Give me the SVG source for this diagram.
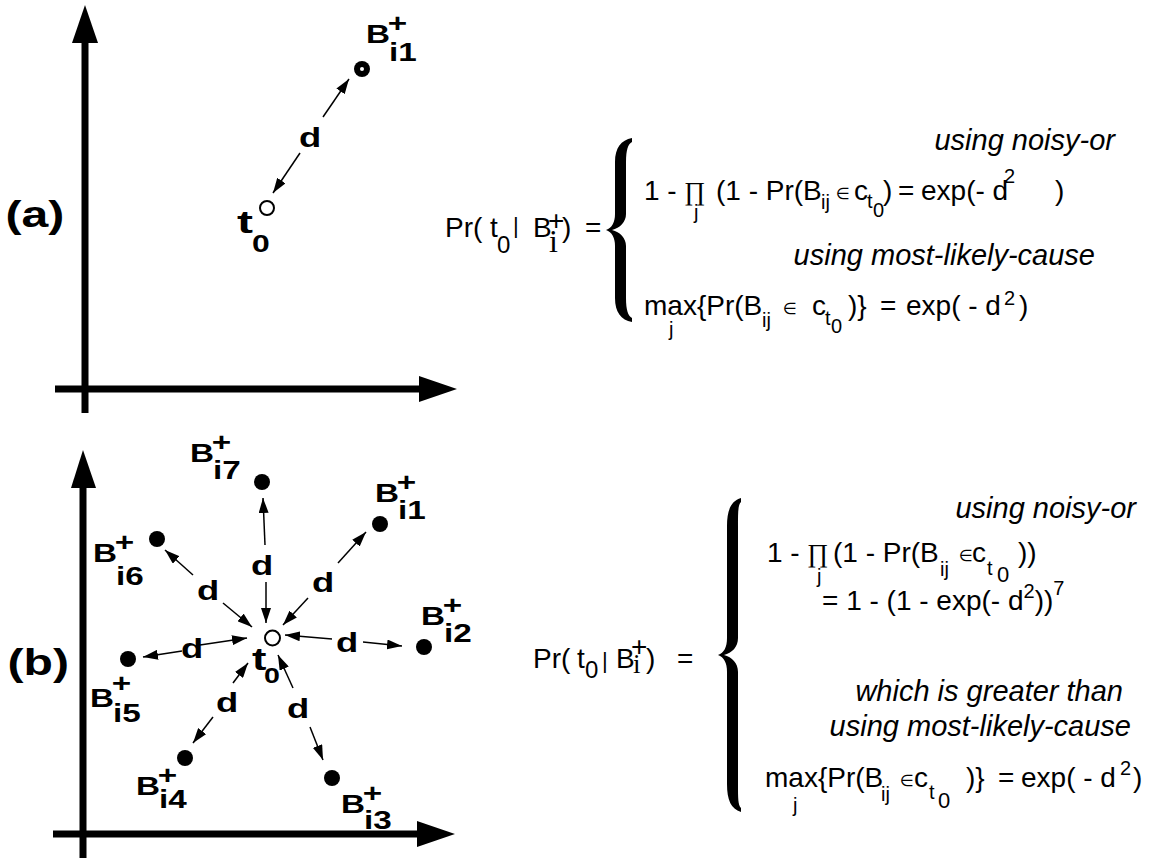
<svg xmlns="http://www.w3.org/2000/svg" width="1152" height="859" viewBox="0 0 1152 859">
<defs>
<style>
.ax{stroke:#000;stroke-width:7;fill:none}
.ah{fill:#000}
.cn{stroke:#000;stroke-width:1.5;fill:none;marker-end:url(#ar)}
.dot{fill:#000}
.open{fill:#fff;stroke:#000;stroke-width:2}
.lb{font-family:"Liberation Sans",Arial,sans-serif;font-weight:bold;font-size:26px}
.dl{font-family:"Liberation Sans",Arial,sans-serif;font-weight:bold;font-size:27px}
.m{font-family:"Liberation Sans",Arial,sans-serif;font-size:28px}
.s{font-family:"Liberation Sans",Arial,sans-serif;font-size:20px}
.it{font-family:"Liberation Sans",Arial,sans-serif;font-style:italic;font-size:29px;text-anchor:end}
.sr{font-family:"Liberation Serif","Times New Roman",serif}
.sym{font-family:"DejaVu Sans",sans-serif;font-size:16px}
.br{fill:#000}
</style>
<marker id="ar" markerUnits="userSpaceOnUse" markerWidth="15" markerHeight="10" refX="15" refY="5" orient="auto">
<path d="M0,0 L15,5 L0,10 z" fill="#000"/>
</marker>
</defs>
<rect width="1152" height="859" fill="#fff"/>

<g id="axes-a">
<line class="ax" x1="85" y1="413" x2="85" y2="40"/>
<polygon class="ah" points="72,43 98,43 85,5"/>
<line class="ax" x1="55" y1="389" x2="422" y2="389"/>
<polygon class="ah" points="419,376 419,402 457,389"/>
<text class="lb" style="font-size:37px" transform="translate(5.5,227) scale(1.3,1)">(a)</text>
</g>

<g id="axes-b">
<line class="ax" x1="83" y1="858" x2="83" y2="485"/>
<polygon class="ah" points="71,488 96,488 83,450"/>
<line class="ax" x1="53" y1="834" x2="420" y2="834"/>
<polygon class="ah" points="417,821 417,847 455,834"/>
<text class="lb" style="font-size:37px" transform="translate(7.5,675) scale(1.3,1)">(b)</text>
</g>

<g id="connectors">
<line class="cn" x1="323" y1="117" x2="349" y2="79"/>
<line class="cn" x1="300" y1="153" x2="273" y2="193"/>
<line class="cn" x1="265" y1="545" x2="263" y2="498"/>
<line class="cn" x1="266" y1="582" x2="266" y2="623"/>
<line class="cn" x1="338" y1="563" x2="366" y2="532"/>
<line class="cn" x1="308" y1="598" x2="283" y2="625"/>
<line class="cn" x1="332" y1="639" x2="285" y2="635"/>
<line class="cn" x1="363" y1="642" x2="402" y2="646"/>
<line class="cn" x1="293" y1="688" x2="278" y2="655"/>
<line class="cn" x1="310" y1="727" x2="323" y2="760"/>
<line class="cn" x1="233" y1="683" x2="248" y2="663"/>
<line class="cn" x1="213" y1="717" x2="193" y2="743"/>
<line class="cn" x1="200" y1="645" x2="247" y2="638"/>
<line class="cn" x1="182" y1="651" x2="143" y2="657"/>
<line class="cn" x1="193" y1="575" x2="165" y2="550"/>
<line class="cn" x1="223" y1="603" x2="252" y2="627"/>
<g id="d-labels">
<text class="dl" transform="translate(299,147) scale(1.35,1)">d</text>
<text class="dl" transform="translate(251,575) scale(1.35,1)">d</text>
<text class="dl" transform="translate(312,592) scale(1.35,1)">d</text>
<text class="dl" transform="translate(336,652) scale(1.35,1)">d</text>
<text class="dl" transform="translate(287,718) scale(1.35,1)">d</text>
<text class="dl" transform="translate(216,712) scale(1.35,1)">d</text>
<text class="dl" transform="translate(181,658) scale(1.35,1)">d</text>
<text class="dl" transform="translate(197,600) scale(1.35,1)">d</text>
</g>
</g>

<g id="a-t0">
<circle class="open" cx="267" cy="208" r="7"/>
<text class="lb" style="font-size:32px" transform="translate(237,233) scale(1.5,1)">t</text>
<text class="lb" style="font-size:24px" transform="translate(252,252) scale(1.33,1)">0</text>
</g>
<g id="a-Bi1">
<circle class="dot" cx="362" cy="69" r="8"/>
<circle cx="362" cy="69" r="2" fill="#fff"/>
<g transform="translate(366,43) scale(1.28,1)"><text class="lb" x="0" y="0">B</text><text class="lb" x="17" y="-11">+</text><text class="lb" x="18" y="18">i1</text></g>
</g>

<g id="b-t0">
<circle class="open" cx="272.5" cy="638" r="7.5"/>
<text class="lb" style="font-size:31px" transform="translate(252,670) scale(1.4,1)">t</text>
<text class="lb" style="font-size:22px" transform="translate(264,683) scale(1.3,1)">0</text>
</g>
<g id="b-Bi7">
<circle class="dot" cx="262" cy="482" r="8"/>
<g transform="translate(190,462) scale(1.28,1)"><text class="lb" x="0" y="0">B</text><text class="lb" x="17" y="-11">+</text><text class="lb" x="18" y="17">i7</text></g>
</g>
<g id="b-Bi1">
<circle class="dot" cx="380" cy="524" r="8"/>
<g transform="translate(375,502) scale(1.28,1)"><text class="lb" x="0" y="0">B</text><text class="lb" x="17" y="-11">+</text><text class="lb" x="18" y="17">i1</text></g>
</g>
<g id="b-Bi2">
<circle class="dot" cx="424" cy="647" r="8"/>
<g transform="translate(421,625) scale(1.28,1)"><text class="lb" x="0" y="0">B</text><text class="lb" x="17" y="-11">+</text><text class="lb" x="18" y="17">i2</text></g>
</g>
<g id="b-Bi3">
<circle class="dot" cx="332" cy="778" r="8"/>
<g transform="translate(341,813) scale(1.28,1)"><text class="lb" x="0" y="0">B</text><text class="lb" x="17" y="-11">+</text><text class="lb" x="18" y="16">i3</text></g>
</g>
<g id="b-Bi4">
<circle class="dot" cx="185" cy="758" r="8"/>
<g transform="translate(136,795) scale(1.28,1)"><text class="lb" x="0" y="0">B</text><text class="lb" x="17" y="-11">+</text><text class="lb" x="18" y="13">i4</text></g>
</g>
<g id="b-Bi5">
<circle class="dot" cx="128" cy="659" r="8"/>
<g transform="translate(90,707) scale(1.28,1)"><text class="lb" x="0" y="0">B</text><text class="lb" x="17" y="-15">+</text><text class="lb" x="18" y="15">i5</text></g>
</g>
<g id="b-Bi6">
<circle class="dot" cx="157" cy="539" r="8"/>
<g transform="translate(93,562) scale(1.28,1)"><text class="lb" x="0" y="0">B</text><text class="lb" x="17" y="-11">+</text><text class="lb" x="18" y="23">i6</text></g>
</g>

<g id="formula-a">
<text class="m" x="445" y="237">Pr( t</text>
<text class="s" style="font-size:24px" x="497" y="253">0</text>
<text class="m" style="font-size:22px" x="513" y="233">|</text>
<text class="m" x="533" y="237">B</text>
<text class="m" x="548" y="230">+</text>
<text class="sr" style="font-size:32px" x="549" y="252">i</text>
<text class="m" x="562" y="237">)</text>
<text class="m" x="585" y="237">=</text>
<path class="br" d="M632,138 C621,140 615,148 615,162 L615,214 C615,222 612,228 606,230 C612,232 615,238 615,246 L615,298 C615,312 621,320 632,322 L632,318 C628,316 626,310 626,298 L626,246 C626,238 620,232 612,230 C620,228 626,222 626,214 L626,162 C626,150 628,144 632,142 Z"/>
<text class="it" x="1115" y="150">using noisy-or</text>
<text class="m" x="644" y="200">1 -</text>
<text class="sr" style="font-size:26px" x="684" y="200">∏</text>
<text class="s" x="694" y="219">j</text>
<text class="m" x="716" y="200">(1 - Pr(B</text>
<text class="s" x="821" y="209">ij</text>
<text class="sym" x="836" y="199">∈</text>
<text class="m" x="854" y="200">c</text>
<text class="s" x="867" y="208">t</text>
<text class="s" x="873" y="217">0</text>
<text class="m" x="883" y="200">)</text>
<text class="m" x="898" y="200">=</text>
<text class="m" x="921" y="200">exp(- d</text>
<text class="s" x="1004" y="183">2</text>
<text class="m" x="1055" y="200">)</text>
<text class="it" x="1095" y="265">using most-likely-cause</text>
<text class="m" x="644" y="315">max{Pr(B</text>
<text class="s" x="669" y="336">j</text>
<text class="s" x="762" y="327">ij</text>
<text class="sym" x="783" y="314">∈</text>
<text class="m" x="812" y="315">c</text>
<text class="s" x="825" y="325">t</text>
<text class="s" x="831" y="333">0</text>
<text class="m" x="848" y="315">)}</text>
<text class="m" x="880" y="315">=</text>
<text class="m" x="906" y="315">exp( - d</text>
<text class="s" x="1004" y="305">2</text>
<text class="m" x="1019" y="315">)</text>
</g>

<g id="formula-b">
<text class="m" x="533" y="668">Pr(</text>
<text class="m" x="577" y="668">t</text>
<text class="s" style="font-size:24px" x="585" y="678">0</text>
<text class="m" style="font-size:22px" x="602" y="668">|</text>
<text class="m" x="616" y="668">B</text>
<text class="m" x="631" y="656">+</text>
<text class="sr" style="font-size:27px" x="633" y="673">i</text>
<text class="m" x="646" y="668">)</text>
<text class="m" x="677" y="668">=</text>
<path class="br" d="M741,498 C731,501 727,510 727,526 L727,638 C727,647 724,653 718,655 C724,657 727,663 727,672 L727,784 C727,800 731,809 741,812 L741,808 C738,805 738,798 738,784 L738,672 C738,663 732,657 724,655 C732,653 738,647 738,638 L738,526 C738,512 738,505 741,502 Z"/>
<text class="it" x="1136" y="518">using noisy-or</text>
<text class="m" x="767" y="562">1 -</text>
<text class="sr" style="font-size:26px" x="807" y="562">∏</text>
<text class="s" x="817" y="583">j</text>
<text class="m" x="833" y="562">(1 - Pr(B</text>
<text class="s" x="940" y="576">ij</text>
<text class="sym" x="959" y="561">∈</text>
<text class="m" x="972" y="562">c</text>
<text class="s" x="987" y="575">t</text>
<text class="s" style="font-size:22px" x="997" y="582">0</text>
<text class="m" x="1018" y="562">))</text>
<text class="m" x="822" y="610">= 1 - (1 - exp(- d<tspan class="s" dy="-12">2</tspan><tspan dy="12">))</tspan><tspan class="s" dy="-15">7</tspan></text>
<text class="it" x="1123" y="701">which is greater than</text>
<text class="it" x="1131" y="736">using most-likely-cause</text>
<text class="m" x="765" y="787">max{Pr(B</text>
<text class="s" x="793" y="812">j</text>
<text class="s" x="881" y="801">ij</text>
<text class="sym" x="900" y="786">∈</text>
<text class="m" x="914" y="787">c</text>
<text class="s" x="929" y="799">t</text>
<text class="s" style="font-size:22px" x="938" y="808">0</text>
<text class="m" x="966" y="787">)}</text>
<text class="m" x="998" y="787">=</text>
<text class="m" x="1021" y="787">exp( - d</text>
<text class="s" x="1120" y="775">2</text>
<text class="m" x="1133" y="787">)</text>
</g>
</svg>
